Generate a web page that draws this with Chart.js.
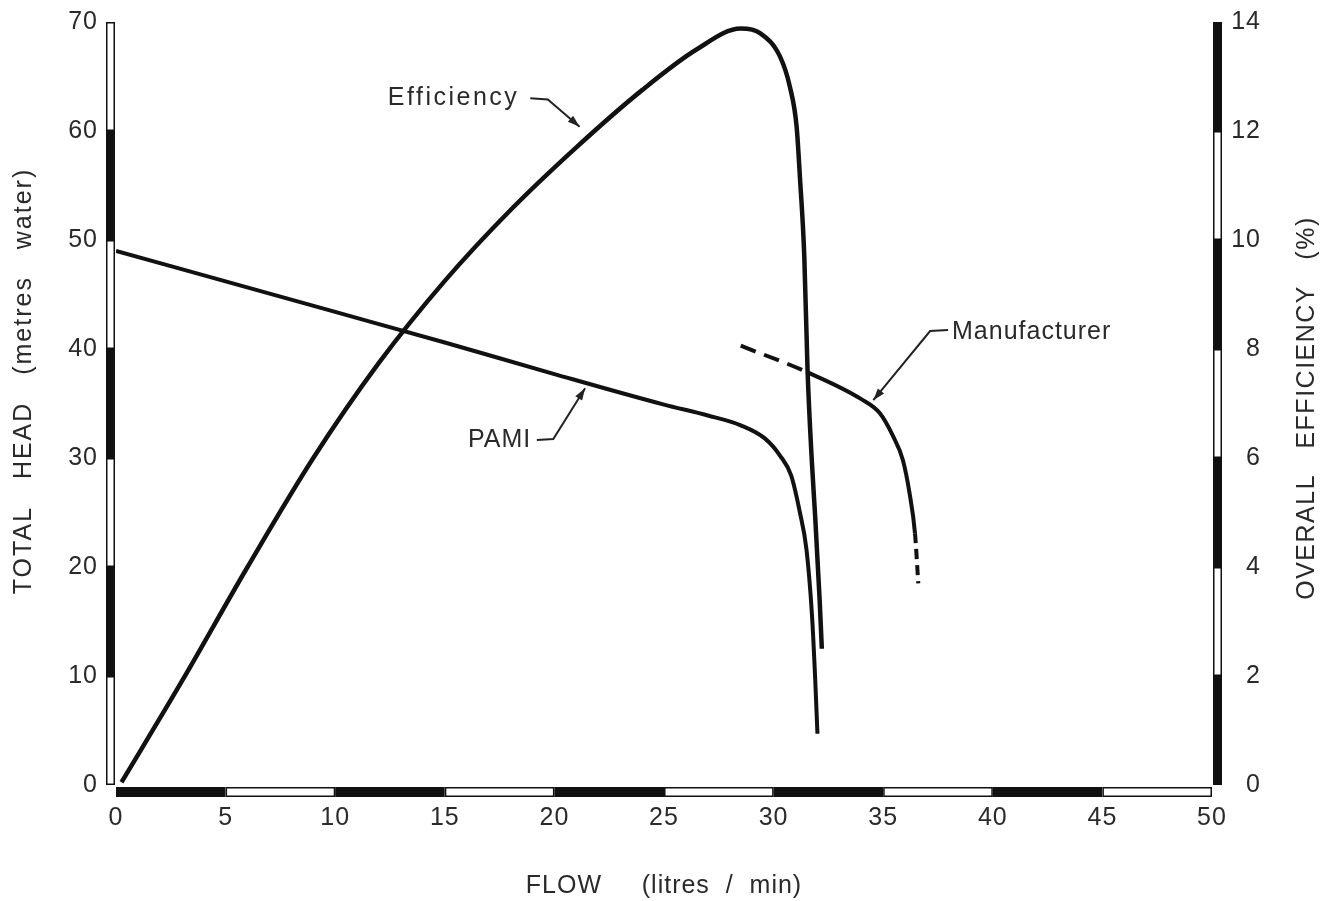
<!DOCTYPE html>
<html>
<head>
<meta charset="utf-8">
<title>PAMI pump test</title>
<script src="https://cdn.jsdelivr.net/npm/chart.js@4.4.1/dist/chart.umd.min.js"></script>
<style>
  html, body { margin: 0; padding: 0; background: #fff; }
  #wrap { width: 1329px; height: 901px; position: relative; }
</style>
</head>
<body>
<div id="wrap"><canvas id="chart"></canvas></div>
<script>
// tick values
const flowTicks = [0, 5, 10, 15, 20, 25, 30, 35, 40, 45, 50];
const headTicks = [0, 10, 20, 30, 40, 50, 60, 70];
const effTicks = [0, 2, 4, 6, 8, 10, 12, 14];

// Efficiency (%) vs flow (litres/min), right axis
const effFlow  = [0.25, 3, 6, 9, 12, 15, 18, 21, 24, 26.5, 28.5, 29.4, 30.3, 30.75, 31.05, 31.2, 31.4, 31.55, 31.75, 31.9, 32.1, 32.2];
const effValue = [0.05, 1.9, 4.0, 6.0, 7.75, 9.25, 10.55, 11.7, 12.75, 13.5, 13.88, 13.79, 13.36, 12.8, 12.08, 11.16, 9.7, 7.6, 5.9, 4.9, 3.4, 2.5];

// PAMI head (m) vs flow
const pamiFlow = [0, 5, 10, 15, 20, 25, 27, 28.5, 29.6, 30.3, 30.8, 31.2, 31.5, 31.75, 31.9, 32.0];
const pamiHead = [49, 46.2, 43.4, 40.6, 37.7, 34.9, 33.9, 33.0, 31.8, 30.2, 28.4, 25.0, 21.6, 15.6, 9.6, 4.7];

// Manufacturer head (m) vs flow
const mfrFlow = [28.5, 31.5, 34.0, 34.85, 35.45, 35.9, 36.2, 36.45, 36.6];
const mfrHead = [40.3, 37.9, 35.4, 34.1, 32.0, 29.8, 26.8, 23.1, 18.5];

const FONT = '"Liberation Sans", Arial, sans-serif';
const INK = '#111';
const TXT = '#2a2a2a';

const pts = (xs, ys) => xs.map((x, i) => ({ x, y: ys[i] }));

// callouts: label position + leader path (last point = arrow tip), in flow / head units
const notes = [
  { text: 'Efficiency', x: 12.4, y: 63.0, spacing: 2.5, path: [[18.9, 63.0], [19.7, 62.9], [21.15, 60.4]] },
  { text: 'PAMI', x: 16.06, y: 31.65, spacing: 1, path: [[19.2, 31.65], [19.95, 31.75], [21.4, 36.4]] },
  { text: 'Manufacturer', x: 38.14, y: 41.56, spacing: 1, path: [[37.96, 41.74], [37.14, 41.65], [34.55, 35.3]] }
];

const spacingFix = {
  id: 'spacingFix',
  beforeUpdate(chart) { chart.ctx.letterSpacing = '1px'; },
  beforeDraw(chart) { chart.ctx.letterSpacing = '1px'; }
};

// black / white scale bars along the three axes
const axisBars = {
  id: 'axisBars',
  afterDraw(chart) {
    const { ctx, chartArea: a, scales } = chart;
    ctx.save();
    ctx.lineWidth = 1.5;
    ctx.strokeStyle = INK;
    const seg = (x, y, w, h, black) => {
      ctx.fillStyle = black ? INK : '#fff';
      ctx.fillRect(x, y, w, h);
      if (!black) ctx.strokeRect(x + 0.75, y + 0.75, w - 1.5, h - 1.5);
    };
    for (let i = 0; i < flowTicks.length - 1; i++) {
      const x0 = scales.x.getPixelForValue(flowTicks[i]);
      const x1 = scales.x.getPixelForValue(flowTicks[i + 1]);
      seg(x0, a.bottom + 2, x1 - x0, 10, i % 2 === 0);
    }
    for (let i = 0; i < headTicks.length - 1; i++) {
      const y0 = scales.y.getPixelForValue(headTicks[i]);
      const y1 = scales.y.getPixelForValue(headTicks[i + 1]);
      seg(a.left - 10, y1, 9, y0 - y1, i % 2 === 1);
    }
    for (let i = 0; i < effTicks.length - 1; i++) {
      const y0 = scales.y2.getPixelForValue(effTicks[i]);
      const y1 = scales.y2.getPixelForValue(effTicks[i + 1]);
      seg(a.right + 1, y1, 9, y0 - y1, i % 2 === 0);
    }
    ctx.restore();
  }
};

// rotated y titles and the curve callouts
const labels = {
  id: 'labels',
  afterDraw(chart) {
    const { ctx, scales } = chart;
    const X = v => scales.x.getPixelForValue(v);
    const Y = v => scales.y.getPixelForValue(v);
    ctx.save();
    ctx.fillStyle = TXT;
    ctx.font = '25px ' + FONT;
    ctx.textAlign = 'center';
    ctx.textBaseline = 'middle';

    ctx.letterSpacing = '2px';
    ctx.save();
    ctx.translate(scales.y.left + 24, 381);
    ctx.rotate(-Math.PI / 2);
    ctx.fillText('TOTAL   HEAD   (metres   water)', 0, 0);
    ctx.restore();

    ctx.letterSpacing = '1.5px';
    ctx.save();
    ctx.translate(chart.width - 22, 408);
    ctx.rotate(-Math.PI / 2);
    ctx.fillText('OVERALL   EFFICIENCY   (%)', 0, 0);
    ctx.restore();

    ctx.textAlign = 'left';
    ctx.strokeStyle = '#222';
    ctx.lineWidth = 2;
    notes.forEach(n => {
      ctx.letterSpacing = n.spacing + 'px';
      ctx.fillText(n.text, X(n.x), Y(n.y));
      const p = n.path.map(([u, v]) => [X(u), Y(v)]);
      ctx.beginPath();
      ctx.moveTo(p[0][0], p[0][1]);
      p.slice(1).forEach(q => ctx.lineTo(q[0], q[1]));
      ctx.stroke();
      const [tx, ty] = p[p.length - 1];
      const [fx, fy] = p[p.length - 2];
      const ang = Math.atan2(ty - fy, tx - fx);
      ctx.beginPath();
      ctx.moveTo(tx, ty);
      ctx.lineTo(tx - 12 * Math.cos(ang) + 4 * Math.sin(ang), ty - 12 * Math.sin(ang) - 4 * Math.cos(ang));
      ctx.lineTo(tx - 12 * Math.cos(ang) - 4 * Math.sin(ang), ty - 12 * Math.sin(ang) + 4 * Math.cos(ang));
      ctx.closePath();
      ctx.fillStyle = '#222';
      ctx.fill();
      ctx.fillStyle = TXT;
    });
    ctx.restore();
  }
};

const tickFont = { family: FONT, size: 25 };
const setTicks = list => scale => { scale.ticks = list.map(v => ({ value: v })); };
const noPad = s => { s.paddingTop = 0; s.paddingBottom = 0; s.paddingLeft = 0; s.paddingRight = 0; };

new Chart(document.getElementById('chart'), {
  type: 'line',
  data: {
    datasets: [
      {
        label: 'Efficiency',
        data: pts(effFlow, effValue),
        yAxisID: 'y2',
        borderColor: INK,
        borderWidth: 4.5
      },
      {
        label: 'PAMI',
        data: pts(pamiFlow, pamiHead),
        yAxisID: 'y',
        borderColor: INK,
        borderWidth: 4
      },
      {
        label: 'Manufacturer',
        data: pts(mfrFlow, mfrHead),
        yAxisID: 'y',
        borderColor: INK,
        borderWidth: 4,
        segment: {
          borderDash: c => c.p0DataIndex === 0 ? [16, 9] : (c.p0DataIndex === mfrFlow.length - 2 ? [10, 6] : undefined)
        }
      }
    ]
  },
  options: {
    responsive: true,
    maintainAspectRatio: false,
    animation: false,
    layout: { padding: { top: 22, left: 0, right: 68, bottom: 0 } },
    elements: {
      point: { radius: 0 },
      line: { cubicInterpolationMode: 'monotone', fill: false, borderCapStyle: 'butt' }
    },
    plugins: { legend: { display: false }, tooltip: { enabled: false } },
    scales: {
      x: {
        type: 'linear',
        min: 0, max: 50,
        afterBuildTicks: setTicks(flowTicks),
        afterFit: s => { noPad(s); s.height = 116; },
        grid: { display: false, drawTicks: false },
        border: { display: false },
        ticks: { padding: 18, font: tickFont, color: TXT, maxRotation: 0, autoSkip: false },
        title: {
          display: true,
          text: 'FLOW     (litres  /  min)',
          font: { family: FONT, size: 25 },
          color: TXT,
          padding: { top: 0, bottom: 0 }
        }
      },
      y: {
        position: 'left',
        min: 0, max: 70,
        afterBuildTicks: setTicks(headTicks),
        afterFit: s => { noPad(s); s.width = 116; },
        grid: { display: false, drawTicks: false },
        border: { display: false },
        ticks: { padding: 18, font: tickFont, color: TXT }
      },
      y2: {
        position: 'right',
        min: 0, max: 14,
        afterBuildTicks: setTicks(effTicks),
        afterFit: s => { noPad(s); s.width = 49; },
        grid: { display: false, drawTicks: false },
        border: { display: false },
        ticks: { padding: 18, font: tickFont, color: TXT, crossAlign: 'far' }
      }
    }
  },
  plugins: [spacingFix, axisBars, labels]
});
</script>
</body>
</html>
